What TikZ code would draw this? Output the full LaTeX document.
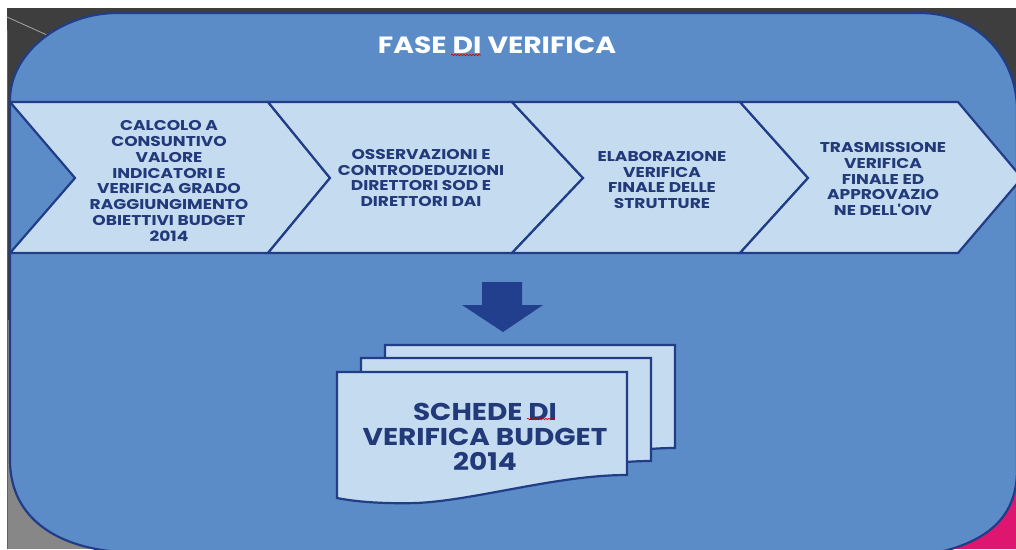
\documentclass[tikz,border=0pt]{standalone}
\usepackage{fontspec}
\setmainfont{Poppins}
\newfontfamily\popwide{Poppins}[FakeStretch=1.2]
\newfontfamily\popdoc{Poppins}[FakeStretch=1.15]
\usetikzlibrary{decorations.pathmorphing}
\definecolor{midblue}{HTML}{5B8CC7}
\definecolor{lightblue}{HTML}{C5DBF0}
\definecolor{edgeblue}{HTML}{213D88}
\definecolor{textblue}{HTML}{22397A}
\definecolor{arrowblue}{HTML}{213F8C}
\definecolor{bgdark}{HTML}{3E3E3E}
\definecolor{bggray}{HTML}{878787}
\definecolor{bgmagenta}{HTML}{DE1670}
\definecolor{redline}{HTML}{B03A5A}
\begin{document}
\begin{tikzpicture}[x=1pt,y=-1pt,
  chev/.style={fill=lightblue, draw=edgeblue, line width=2.2pt, line join=miter},
  sheet/.style={fill=lightblue, draw=edgeblue, line width=2.2pt, line join=miter},
  steptext/.style={text=textblue, font=\popwide\bfseries\fontsize{14.2}{15.8}\selectfont, align=center, inner sep=0pt},
  titletext/.style={text=white, font=\popwide\bfseries\fontsize{23.5}{25}\selectfont, inner sep=0pt},
  doctext/.style={text=textblue, font=\popdoc\bfseries\fontsize{24.3}{25}\selectfont, align=center, inner sep=0pt},
  squiggle/.style={draw=red!80!black, line width=0.6pt, decorate, decoration={snake, amplitude=0.8pt, segment length=3pt}}]
\useasboundingbox (0,0) rectangle (1016,549);
\clip (0,0) rectangle (1016,549);
% backdrop
\fill[white] (0,0) rectangle (1016,549);
\fill[bgdark] (7,8) rectangle (1016,549);
\fill[bggray] (7,320) rectangle (300,549);
\fill[bgmagenta] (850,400) rectangle (1016,549);
\draw[gray!70, line width=0.8pt] (7,17) -- (47,35);
\draw[redline, line width=1.5pt] (7.5,30) -- (7.5,549);
% main rounded panel
\draw[fill=midblue, draw=edgeblue, line width=2.2pt]
  (10,100) .. controls (10,52) and (62,13) .. (117,13)
  -- (920,13) .. controls (975,13) and (1017,55) .. (1017,110)
  -- (1017,470) .. controls (1017,515) and (990,540) .. (940,552)
  -- (120,552) .. controls (60,548) and (10,520) .. (10,460) -- cycle;
% chevrons
\draw[chev] (10,102) -- (268,102) -- (330,178) -- (268,253) -- (10,253) -- (75,178) -- cycle;
\draw[chev] (268,102) -- (512,102) -- (583,178) -- (512,253) -- (268,253) -- (330,178) -- cycle;
\draw[chev] (512,102) -- (740,102) -- (808,178) -- (740,253) -- (512,253) -- (583,178) -- cycle;
\draw[chev] (740,102) -- (958,102) -- (1022,178) -- (958,253) -- (740,253) -- (808,178) -- cycle;
\draw[edgeblue, line width=2.2pt] (10,95) -- (10,260);
% title
\node[titletext] (title) at (497,45) {FASE DI VERIFICA};
\draw[squiggle] (451,55) -- (481,55);
% step texts
\node[steptext] (s1) at (169,181) {CALCOLO A\\CONSUNTIVO\\VALORE\\INDICATORI E\\VERIFICA GRADO\\RAGGIUNGIMENTO\\OBIETTIVI BUDGET\\2014};
\node[steptext] (s2) at (421,178) {OSSERVAZIONI E\\CONTRODEDUZIONI\\DIRETTORI SOD E\\DIRETTORI DAI};
\node[steptext] (s3) at (662,180) {ELABORAZIONE\\VERIFICA\\FINALE DELLE\\STRUTTURE};
\node[steptext] (s4) at (883,179) {TRASMISSIONE\\VERIFICA\\FINALE ED\\APPROVAZIO\\NE DELL'OIV};
% down arrow
\fill[arrowblue] (482,282) -- (522,282) -- (522,305) -- (543,305) -- (503,332) -- (462,305) -- (482,305) -- cycle;
% stacked documents
\foreach \X/\Y in {385/345, 361/358, 337/372}{
  \draw[sheet] (\X,\Y) -- (\X+290,\Y) -- (\X+290,\Y+103)
    .. controls (\X+220,\Y+103) and (\X+140,\Y+128) .. (\X+80,\Y+131)
    .. controls (\X+40,\Y+132) and (\X+15,\Y+129) .. (\X,\Y+126) -- cycle;
}
\node[doctext] (doc) at (485,437) {SCHEDE DI\\VERIFICA BUDGET\\2014};
\draw[squiggle] (527,419) -- (555,419);
\end{tikzpicture}
\end{document}
